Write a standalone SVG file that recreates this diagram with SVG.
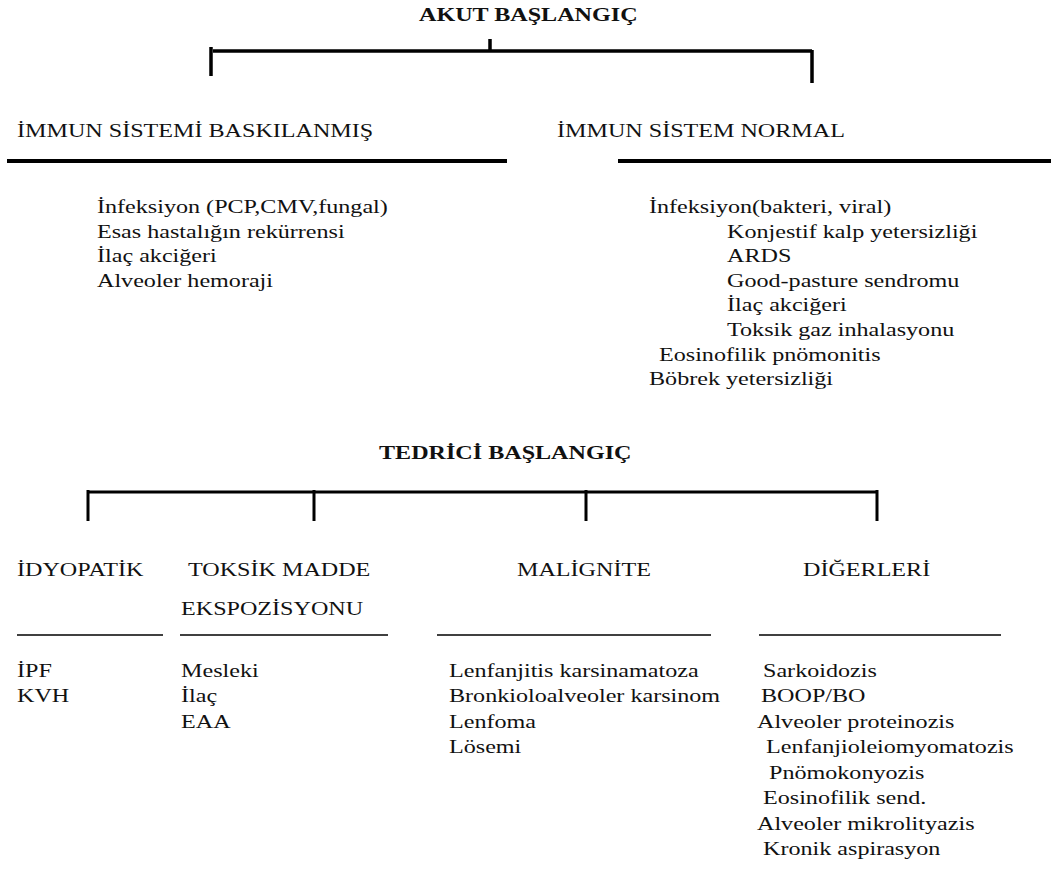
<svg xmlns="http://www.w3.org/2000/svg" width="1051" height="873" viewBox="0 0 1051 873">
<style>
text{font-family:'Liberation Serif','Times New Roman','DejaVu Serif',serif;font-size:18px;fill:#111}
.b{font-weight:bold}
.c{stroke:#000;fill:none;stroke-linecap:butt}
.thick{stroke:#000;stroke-width:4}
.thin{stroke:#000;stroke-width:1.5}
</style>
<rect width="1051" height="873" fill="#fff"/>
<g id="connectors">
  <path class="c" stroke-width="3.5" d="M213 51 H812 M490 39 V51 M211 47 V76 M812 50 V83"/>
  <path class="c" stroke-width="3" d="M88 492 H877 M88 490 V521 M314 490 V521 M586 490 V521 M877 490 V521"/>
</g>
<g font-family="Liberation Serif, serif">
<g id="akut-baslangic">
  <text class="b" transform="translate(419 21) scale(1.34 1)">AKUT BAŞLANGIÇ</text>
</g>
<g id="immun-baskilanmis">
  <text transform="translate(17 137) scale(1.34 1)">İMMUN SİSTEMİ BASKILANMIŞ</text>
  <line class="thick" x1="7" y1="161" x2="507" y2="161"/>
  <text transform="translate(97 213) scale(1.34 1)">İnfeksiyon (PCP,CMV,fungal)</text>
  <text transform="translate(97 238) scale(1.34 1)">Esas hastalığın rekürrensi</text>
  <text transform="translate(97 262) scale(1.34 1)">İlaç akciğeri</text>
  <text transform="translate(97 287) scale(1.34 1)">Alveoler hemoraji</text>
</g>
<g id="immun-normal">
  <text transform="translate(557 137) scale(1.34 1)">İMMUN SİSTEM NORMAL</text>
  <line class="thick" x1="618" y1="161" x2="1051" y2="161"/>
  <text transform="translate(649 213) scale(1.34 1)">İnfeksiyon(bakteri, viral)</text>
  <text transform="translate(727 238) scale(1.34 1)">Konjestif kalp yetersizliği</text>
  <text transform="translate(727 262) scale(1.34 1)">ARDS</text>
  <text transform="translate(727 287) scale(1.34 1)">Good-pasture sendromu</text>
  <text transform="translate(727 311) scale(1.34 1)">İlaç akciğeri</text>
  <text transform="translate(727 336) scale(1.34 1)">Toksik gaz inhalasyonu</text>
  <text transform="translate(659 361) scale(1.34 1)">Eosinofilik pnömonitis</text>
  <text transform="translate(649 385) scale(1.34 1)">Böbrek yetersizliği</text>
</g>
<g id="tedrici-baslangic">
  <text class="b" transform="translate(379 459) scale(1.34 1)">TEDRİCİ BAŞLANGIÇ</text>
</g>
<g id="idyopatik">
  <text transform="translate(17 576) scale(1.34 1)">İDYOPATİK</text>
  <line class="thin" x1="17" y1="635" x2="163" y2="635"/>
  <text transform="translate(17 677) scale(1.34 1)">İPF</text>
  <text transform="translate(17 702) scale(1.34 1)">KVH</text>
</g>
<g id="toksik-madde">
  <text transform="translate(188 576) scale(1.34 1)">TOKSİK MADDE</text>
  <text transform="translate(181 615) scale(1.34 1)">EKSPOZİSYONU</text>
  <line class="thin" x1="180" y1="635" x2="388" y2="635"/>
  <text transform="translate(181 677) scale(1.34 1)">Mesleki</text>
  <text transform="translate(181 702) scale(1.34 1)">İlaç</text>
  <text transform="translate(181 728) scale(1.34 1)">EAA</text>
</g>
<g id="malignite">
  <text transform="translate(517 576) scale(1.34 1)">MALİGNİTE</text>
  <line class="thin" x1="437" y1="635" x2="711" y2="635"/>
  <text transform="translate(449 677) scale(1.34 1)">Lenfanjitis karsinamatoza</text>
  <text transform="translate(449 702) scale(1.34 1)">Bronkioloalveoler karsinom</text>
  <text transform="translate(449 728) scale(1.34 1)">Lenfoma</text>
  <text transform="translate(449 753) scale(1.34 1)">Lösemi</text>
</g>
<g id="digerleri">
  <text transform="translate(803 576) scale(1.34 1)">DİĞERLERİ</text>
  <line class="thin" x1="759" y1="635" x2="1001" y2="635"/>
  <text transform="translate(763 677) scale(1.34 1)">Sarkoidozis</text>
  <text transform="translate(761 702) scale(1.34 1)">BOOP/BO</text>
  <text transform="translate(757 728) scale(1.34 1)">Alveoler proteinozis</text>
  <text transform="translate(766 753) scale(1.34 1)">Lenfanjioleiomyomatozis</text>
  <text transform="translate(769 779) scale(1.34 1)">Pnömokonyozis</text>
  <text transform="translate(763 804) scale(1.34 1)">Eosinofilik send.</text>
  <text transform="translate(757 830) scale(1.34 1)">Alveoler mikrolityazis</text>
  <text transform="translate(763 855) scale(1.34 1)">Kronik aspirasyon</text>
</g>
</g>
</svg>
